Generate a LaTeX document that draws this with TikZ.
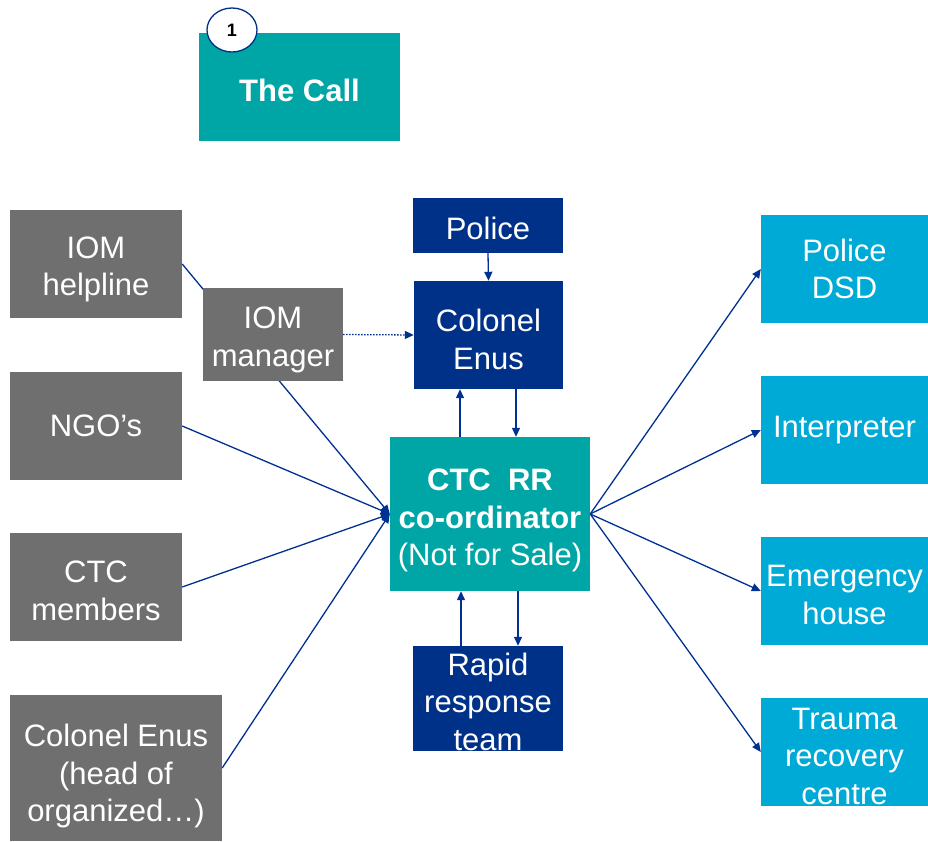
\documentclass[tikz,border=0pt]{standalone}
\usepackage{fontspec}
\setmainfont{Liberation Sans}
\usetikzlibrary{arrows.meta,shapes.geometric}
\pgfdeclarelayer{bg}
\pgfsetlayers{bg,main}
\definecolor{mteal}{RGB}{0,166,166}
\definecolor{mgray}{RGB}{111,111,111}
\definecolor{mnavy}{RGB}{0,49,137}
\definecolor{mcyan}{RGB}{0,170,214}
\definecolor{marrow}{RGB}{0,48,145}
\newcommand{\pstop}[1]{\rule{0pt}{#1em}}
\tikzset{
  box/.style={inner sep=0pt, text=white, align=center, font=\fontsize{31}{37.5}\selectfont},
  gbox/.style={box, fill=mgray},
  nbox/.style={box, fill=mnavy},
  tbox/.style={box, fill=mteal},
  cbox/.style={box, fill=mcyan},
  arr/.style={draw=marrow, line width=1.3pt, -{Triangle[length=9pt,width=8pt]}},
}
\begin{document}
\begin{tikzpicture}[x=1pt,y=-1pt]
\useasboundingbox (0,0) rectangle (928,842);
\node[tbox, minimum width=201pt, minimum height=108pt] (call) at (299.5,87) {\bfseries\pstop{0.92}The Call};
\node[ellipse, draw=mnavy, line width=1.3pt, fill=white, minimum width=50pt, minimum height=44pt, inner sep=0pt, font=\fontsize{18}{20}\selectfont\bfseries, text=black] (one) at (232,30) {1};

\node[gbox, minimum width=172pt, minimum height=108pt] (helpline) at (96,264) {\pstop{1.05}IOM\\helpline};
\node[gbox, minimum width=140pt, minimum height=93pt] (manager) at (273,334.5) {\pstop{1.05}IOM\\manager};
\node[gbox, minimum width=172pt, minimum height=108pt] (ngo) at (96,426) {NGO’s};
\node[gbox, minimum width=172pt, minimum height=108pt] (members) at (96,587) {\pstop{0.95}CTC\\members};
\node[gbox, minimum width=212pt, minimum height=146pt] (head) at (116,768) {\pstop{1.25}Colonel Enus\\(head of\\organized…)};

\node[nbox, minimum width=150pt, minimum height=55pt] (police) at (488,225.5) {\pstop{0.92}Police};
\node[nbox, minimum width=149pt, minimum height=108pt] (colonel) at (488.5,335) {\pstop{1.0}Colonel\\Enus};
\node[tbox, minimum width=200pt, minimum height=154pt] (ctc) at (490,514) {\bfseries\pstop{1.11}CTC\ \ RR\\\bfseries co-ordinator\\(Not for Sale)};
\node[nbox, minimum width=150pt, minimum height=105pt] (rapid) at (488,698.5) {\pstop{0.94}Rapid\\response\\team};

\node[cbox, minimum width=167pt, minimum height=108pt] (dsd) at (844.5,269) {Police\\DSD};
\node[cbox, minimum width=167pt, minimum height=108pt] (interp) at (844.5,430) {Interpreter};
\node[cbox, minimum width=167pt, minimum height=108pt] (emerg) at (844.5,591) {\pstop{0.95}Emergency\\house};
\node[cbox, minimum width=167pt, minimum height=108pt] (trauma) at (844.5,752) {\pstop{0.95}Trauma\\recovery\\centre};

\begin{pgfonlayer}{bg}
\draw[arr] (helpline.east) -- (ctc.west);
\end{pgfonlayer}
\draw[arr] (ngo.east) -- (ctc.west);
\draw[arr] (members.east) -- (ctc.west);
\draw[arr] (head.east) -- (ctc.west);

\draw[arr] (ctc.east) -- (dsd.west);
\draw[arr] (ctc.east) -- (interp.west);
\draw[arr] (ctc.east) -- (emerg.west);
\draw[arr] (ctc.east) -- (trauma.west);

\draw[arr, dash pattern=on 1.5pt off 1.5pt] (manager.east) -- (colonel.west);
\draw[arr] (police.south) -- (colonel.north);
\draw[arr] (ctc.north -| 460,0) -- (colonel.south -| 460,0);
\draw[arr] (colonel.south -| 516,0) -- (ctc.north -| 516,0);
\draw[arr] (rapid.north -| 461,0) -- (ctc.south -| 461,0);
\draw[arr] (ctc.south -| 518,0) -- (rapid.north -| 518,0);
\end{tikzpicture}
\end{document}
